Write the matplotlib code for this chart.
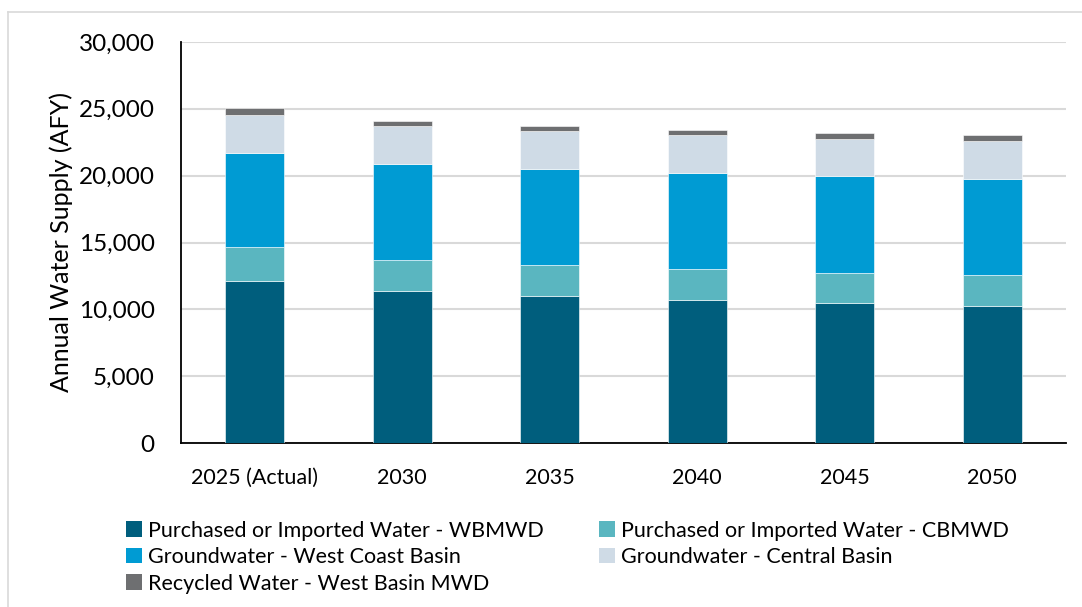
import matplotlib
matplotlib.use("Agg")
import matplotlib.pyplot as plt
from matplotlib.patches import Patch
from matplotlib.ticker import FuncFormatter, MultipleLocator
import numpy as np

# Projected supply by source (acre-feet per year)
years = ["2025 (Actual)", "2030", "2035", "2040", "2045", "2050"]
purchased_wbmwd = [12110, 11370, 10990, 10670, 10470, 10250]
purchased_cbmwd = [2520, 2290, 2290, 2320, 2270, 2290]
gw_west_coast = [7100, 7210, 7220, 7210, 7210, 7240]
gw_central = [2830, 2840, 2840, 2840, 2830, 2850]
recycled_wbmwd = [500, 390, 410, 390, 430, 430]

series = [
    ("Purchased or Imported Water - WBMWD", purchased_wbmwd, "#005E7D"),
    ("Purchased or Imported Water - CBMWD", purchased_cbmwd, "#5AB6C0"),
    ("Groundwater - West Coast Basin", gw_west_coast, "#009BD3"),
    ("Groundwater - Central Basin", gw_central, "#CFDBE6"),
    ("Recycled Water - West Basin MWD", recycled_wbmwd, "#6E6F71"),
]

plt.rcParams["font.family"] = ["Lato", "DejaVu Sans"]

W, H = 1082, 607
fig = plt.figure(figsize=(W / 100, H / 100), dpi=100)
ax = fig.add_axes([181 / W, 1 - 443 / H, (1066 - 181) / W, (443 - 42) / H])

x = np.arange(len(years))
bottom = np.zeros(len(years))
handles = {}
for label, vals, color in series:
    vals = np.array(vals, dtype=float)
    ax.bar(x, vals, width=0.4, bottom=bottom, color=color,
           edgecolor="white", linewidth=0.4, zorder=3)
    bottom += vals
    handles[label] = Patch(facecolor=color, edgecolor="none")

ax.set_xlim(-0.5, len(years) - 0.5)
ax.set_ylim(0, 30000)
ax.yaxis.set_major_locator(MultipleLocator(5000))
ax.yaxis.set_major_formatter(FuncFormatter(lambda v, p: f"{int(v):,}"))
ax.set_xticks(x)
ax.set_xticklabels(years)
ax.tick_params(axis="y", length=0, pad=19, labelsize=17.5, colors="black")
ax.tick_params(axis="x", length=0, pad=18, labelsize=15.5)
ax.grid(axis="y", color="#D9D9D9", linewidth=1.5, zorder=0)
ax.set_axisbelow(True)
for side in ("top", "right"):
    ax.spines[side].set_visible(False)
for side in ("left", "bottom"):
    ax.spines[side].set_color("black")
    ax.spines[side].set_linewidth(1.3)

ax.set_ylabel("Annual Water Supply (AFY)", fontsize=18, labelpad=4)

# Legend filled column-wise, so order entries to read row by row
order = [0, 2, 4, 1, 3]
labels = [series[i][0] for i in order]
fig.legend([handles[l] for l in labels], labels, loc="upper left",
           bbox_to_anchor=(117 / W, 1 - 512 / H), ncol=2, frameon=False,
           fontsize=15.5, handlelength=0.75, handleheight=0.75, handletextpad=0.3,
           columnspacing=2.55, labelspacing=0.3, borderaxespad=0)

# Thin outer frame lines along the top and left
fig.add_artist(plt.Line2D([8 / W, 1], [1 - 12 / H, 1 - 12 / H], color="#D9D9D9",
                          linewidth=1.2, transform=fig.transFigure))
fig.add_artist(plt.Line2D([8 / W, 8 / W], [0, 1 - 12 / H], color="#D9D9D9",
                          linewidth=1.2, transform=fig.transFigure))

fig.savefig("out.png", dpi=100)
